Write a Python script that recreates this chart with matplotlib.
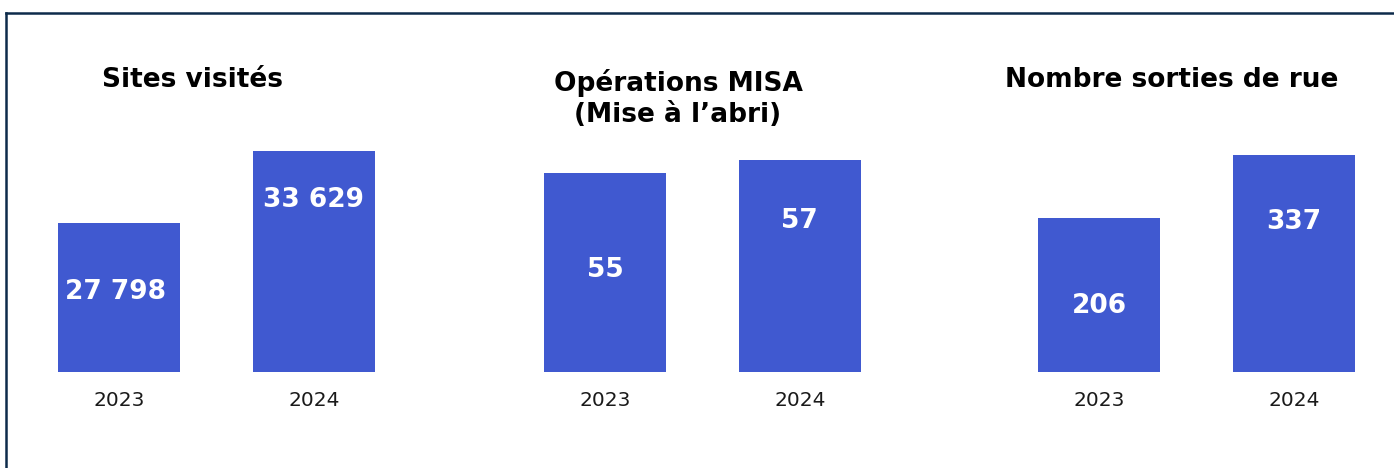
import matplotlib
matplotlib.use("Agg")
import matplotlib.pyplot as plt
from matplotlib.lines import Line2D
import numpy as np

# data
titles = ["Sites visités", "Opérations MISA\n(Mise à l\u2019abri)", "Nombre sorties de rue"]
years = ["2023", "2024"]
values = [[27798, 33629], [55, 57], [206, 337]]
value_labels = [["27 798", "33 629"], ["55", "57"], ["206", "337"]]

# per-panel scales (the original is not drawn from zero)
ylims = [(15731, 34520), (24.39, 60.08), (-114.2, 368.2)]
# label offset below bar top, in points
label_offsets = [[50, 35], [70, 44], [63, 48]]

bar_color = "#4059d0"
W, H = 1394, 468
fig = plt.figure(figsize=(W / 100, H / 100), dpi=100)
plt.rcParams['font.family'] = ['DejaVu Sans']

ax_left = [22, 508, 1002]
ax_w = 389
title_x = [192, 678, 1172]

for i in range(3):
    ax = fig.add_axes([ax_left[i] / W, (H - 372) / H, ax_w / W, 232 / H])
    x = np.arange(len(years))
    lo = ylims[i][0]
    ax.bar(x, np.array(values[i]) - lo, width=0.629, color=bar_color, bottom=lo)
    ax.set_xlim(-0.5, 1.5)
    ax.set_ylim(*ylims[i])
    for j in range(2):
        dx = -3 if (i == 0 and j == 0) else 0
        ax.annotate(value_labels[i][j], xy=(x[j], values[i][j]), xytext=(dx, -label_offsets[i][j]),
                    textcoords="offset points", ha="center", va="center",
                    color="white", fontsize=19, fontweight="bold")
    ax.set_xticks(x)
    ax.set_xticklabels(years, fontsize=14.5, color="#1a1a1a")
    ax.tick_params(axis="x", length=0, pad=14)
    ax.set_yticks([])
    for s in ax.spines.values():
        s.set_visible(False)
    ax.patch.set_alpha(0)
    nlines = titles[i].count("\n")
    fig.text(title_x[i] / W, 1 - (87 + 35 * nlines) / H, titles[i], ha="center", va="baseline",
             fontsize=19, fontweight="bold", color="black", linespacing=1.25)

# frame on top and left
border = "#0d2b4a"
fig.add_artist(Line2D([5.5 / W, 1], [1 - 12.5 / H, 1 - 12.5 / H], color=border, lw=1.8))
fig.add_artist(Line2D([5.5 / W, 5.5 / W], [0, 1 - 12.5 / H], color=border, lw=1.8))

plt.savefig("out.png", dpi=100)
